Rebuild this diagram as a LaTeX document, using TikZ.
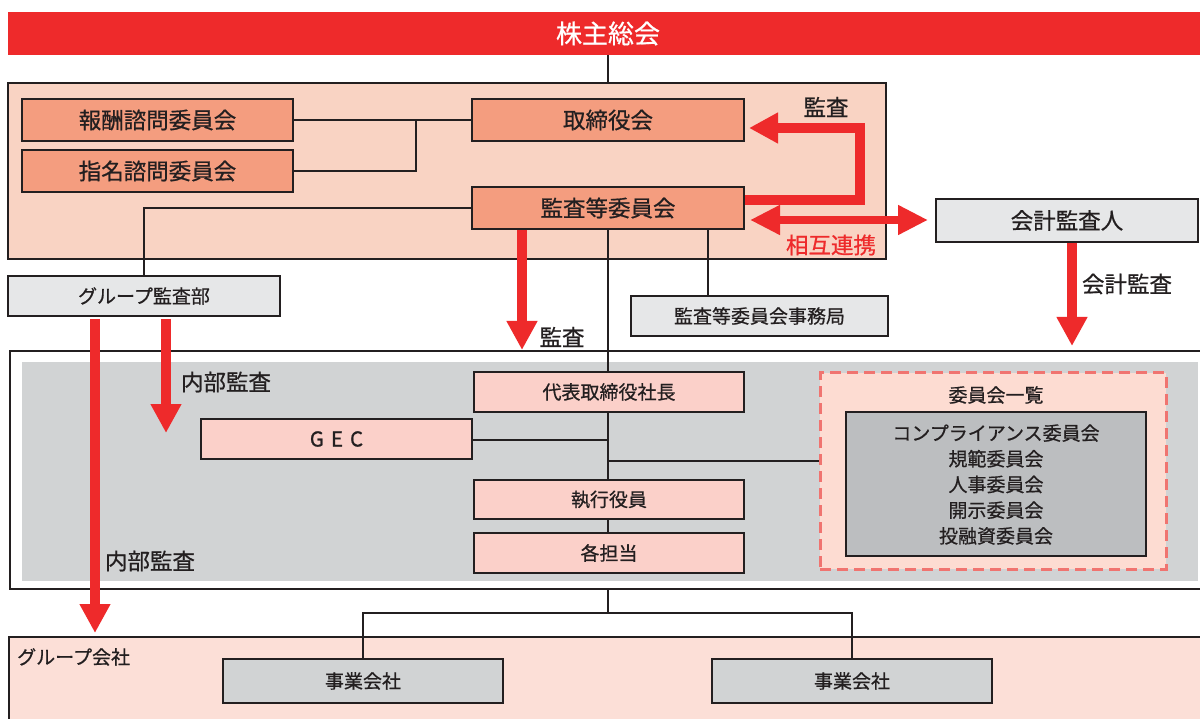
\documentclass[tikz,border=0pt]{standalone}
\usepackage{fontspec}
\setmainfont{Noto Sans CJK JP}[FakeBold=0.7]
\usetikzlibrary{arrows.meta}
\definecolor{myred}{HTML}{EE2A2B}
\definecolor{dk}{HTML}{231F20}
\definecolor{boardfill}{HTML}{F9D3C3}
\definecolor{salmon}{HTML}{F49D7F}
\definecolor{lgray}{HTML}{E6E7E8}
\definecolor{mgray}{HTML}{D1D3D4}
\definecolor{pinkbox}{HTML}{FBD0C9}
\definecolor{dashfill}{HTML}{FDDCD2}
\definecolor{dashline}{HTML}{F07470}
\definecolor{listgray}{HTML}{BCBEC0}
\definecolor{grpfill}{HTML}{FCDFD7}
\begin{document}
\begin{tikzpicture}[x=1pt,y=-1pt,
  bx/.style={draw=dk, line width=1.8pt, inner sep=0pt, text=dk},
  region/.style={draw=dk, line width=1.5pt, inner sep=0pt},
  big/.style={font=\fontsize{22.5}{26}\selectfont},
  mid/.style={font=\fontsize{19}{23}\selectfont},
  lbl/.style={text=dk, inner sep=0pt, font=\fontsize{22.5}{26}\selectfont},
  conn/.style={draw=dk, line width=1.8pt},
  redarrow/.style={draw=myred, line width=10.5pt, -{Triangle[width=29pt,length=29pt]}},
  redboth/.style={draw=myred, line width=8pt, {Triangle[width=28pt,length=30pt]}-{Triangle[width=28pt,length=30pt]}}
]
\useasboundingbox (0,0) rectangle (1200,719);
\clip (0,0) rectangle (1200,719);
\fill[white] (0,0) rectangle (1200,719);

% regions
\node[region, fill=boardfill, minimum width=878pt, minimum height=176pt] (board) at (447,171) {};
\node[region, fill=white, minimum width=1200pt, minimum height=238pt] (midbox) at (610,470) {};
\node[fill=mgray, inner sep=0pt, minimum width=1176pt, minimum height=219pt] (midgray) at (610,471.5) {};
\node[region, fill=grpfill, minimum width=1201pt, minimum height=93pt] (grp) at (609.5,683.5) {};

% top bar
\node[fill=myred, inner sep=0pt, minimum width=1200pt, minimum height=43pt, text=white,
  font=\fontsize{26}{30}\selectfont] (soukai) at (608,33.5) {株主総会};

% board boxes
\node[bx, big, fill=salmon, minimum width=271pt, minimum height=42pt] (houshu) at (157.5,120) {報酬諮問委員会};
\node[bx, big, fill=salmon, minimum width=271pt, minimum height=42pt] (shimei) at (157.5,171) {指名諮問委員会};
\node[bx, big, fill=salmon, minimum width=272pt, minimum height=42pt] (torishimari) at (608,120) {取締役会};
\node[bx, big, fill=salmon, minimum width=272pt, minimum height=42pt] (kansa) at (608,208) {監査等委員会};

\node[bx, mid, fill=lgray, minimum width=272pt, minimum height=40pt] (gkansa) at (144,296) {グループ監査部};
\node[bx, mid, fill=lgray, minimum width=257pt, minimum height=40pt] (jimu) at (759.5,316) {監査等委員会事務局};
\node[bx, big, fill=lgray, minimum width=262pt, minimum height=43pt] (kaikei) at (1067,220.5) {会計監査人};

% middle boxes
\node[bx, mid, fill=pinkbox, minimum width=270pt, minimum height=40pt] (daihyo) at (609,392) {代表取締役社長};
\node[bx, fill=pinkbox, minimum width=271pt, minimum height=40pt, font=\fontsize{20.5}{24}\selectfont] (gec) at (336.5,439) {G\kern7pt E\kern7pt C};
\node[bx, mid, fill=pinkbox, minimum width=270pt, minimum height=39pt] (shikko) at (609,499.5) {執行役員};
\node[bx, mid, fill=pinkbox, minimum width=270pt, minimum height=40pt] (kakutan) at (609,553) {各担当};

\node[draw=dashline, line width=3pt, dash pattern=on 11pt off 6pt, fill=dashfill, inner sep=0pt,
  minimum width=346pt, minimum height=196pt] (dashbox) at (993,471) {};
\node[text=dk, inner sep=0pt, font=\fontsize{19}{23}\selectfont] (ichiran) at (996,395) {委員会一覧};
\node[bx, fill=listgray, minimum width=300pt, minimum height=144pt] (listbox) at (996,484) {};
\node[text=dk, inner sep=0pt, align=center, font=\fontsize{19}{25.7}\selectfont] (listtext) at (996,484.5)
  {コンプライアンス委員会\\規範委員会\\人事委員会\\開示委員会\\投融資委員会};

% group companies
\node[text=dk, inner sep=0pt, anchor=west, font=\fontsize{19}{23}\selectfont] (grplabel) at (17,657) {グループ会社};
\node[bx, mid, fill=mgray, minimum width=280pt, minimum height=44pt] (jigyo1) at (363,681) {事業会社};
\node[bx, mid, fill=mgray, minimum width=280pt, minimum height=44pt] (jigyo2) at (852,681) {事業会社};

% connectors
\draw[conn] (soukai.south) -- (soukai.south |- board.north);
\draw[conn] (houshu.east) -- (torishimari.west);
\coordinate (j1) at (416,120);
\draw[conn] (shimei.east) -| (j1);
\draw[conn] (kansa.west) -| (gkansa.north);
\draw[conn] (kansa.south) -- (daihyo.north -| kansa.south);
\draw[conn] ([xshift=100pt]kansa.south) -- ([xshift=100pt]kansa.south |- jimu.north);
\coordinate (gecj) at (608,440);
\draw[conn] ([yshift=-1pt]gec.east) -- (gecj);
\draw[conn] (daihyo.south -| gecj) -- (shikko.north -| gecj);
\coordinate (dashj) at (608,461);
\draw[conn] (dashj) -- (dashj -| dashbox.west);
\draw[conn] (shikko.south -| gecj) -- (kakutan.north -| gecj);
\coordinate (bj) at (608,613);
\draw[conn] (gecj |- midbox.south) -- (bj);
\draw[conn] (jigyo1.north) |- (bj) -| (jigyo2.north);

% red arrows
\coordinate (a1a) at (860,200);
\coordinate (a1b) at (860,128);
\coordinate (a1tip) at (749,128);
\draw[redarrow, line width=10pt] ([yshift=8pt]kansa.east) -- (a1a) -- (a1b) -- (a1tip);
\coordinate (mlL) at (750,220);
\coordinate (mlR) at (928,220);
\draw[redboth] (mlL) -- (mlR);
\coordinate (a2tip) at (522,350);
\draw[redarrow] (kansa.south -| a2tip) -- (a2tip);
\coordinate (a3tip) at (1072,346);
\draw[redarrow] (kaikei.south -| a3tip) -- (a3tip);
\coordinate (a4s) at (95,319);
\coordinate (a4tip) at (95,633);
\draw[redarrow] (a4s) -- (a4tip);
\coordinate (a5s) at (166,319);
\coordinate (a5tip) at (166,433);
\draw[redarrow] (a5s) -- (a5tip);

% labels
\node[lbl] (l1) at (826,107) {監査};
\node[lbl, text=myred] (l2) at (831,245) {相互連携};
\node[lbl] (l3) at (562,337) {監査};
\node[lbl] (l4) at (1127,284) {会計監査};
\node[lbl] (l5) at (226,382) {内部監査};
\node[lbl] (l6) at (150,561) {内部監査};
\end{tikzpicture}
\end{document}
